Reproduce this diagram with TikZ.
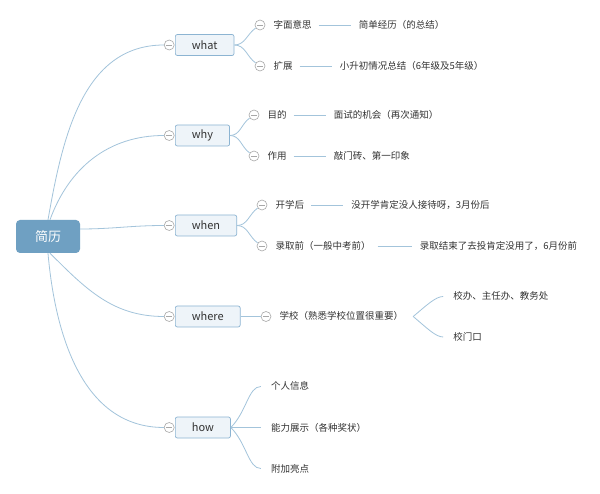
\documentclass[tikz,border=0pt]{standalone}
\usepackage{fontspec}
\setmainfont{Noto Sans CJK SC}
\usetikzlibrary{positioning}

\definecolor{linkblue}{RGB}{163,196,219}
\definecolor{topicline}{RGB}{140,180,210}
\definecolor{topicfill}{RGB}{238,244,249}
\definecolor{rootfill}{RGB}{111,160,194}
\definecolor{foldgray}{RGB}{168,168,168}
\definecolor{textgray}{RGB}{51,51,51}

\begin{document}
\begin{tikzpicture}[
  x=1pt,y=1pt,
  font=\fontsize{9.5}{11}\selectfont,
  text=textgray,
  rootbox/.style={fill=rootfill,rounded corners=4pt,minimum width=64pt,minimum height=33pt,text=white,font=\fontsize{13}{15}\selectfont},
  topic/.style={draw=topicline,fill=topicfill,line width=0.7pt,rounded corners=2pt,inner xsep=16.5pt,minimum height=21pt,font=\fontsize{11}{13}\selectfont},
  fold/.style={circle,draw=foldgray,fill=white,line width=0.6pt,minimum size=10pt,inner sep=0pt,
    path picture={\draw[foldgray,line width=0.6pt] ([xshift=-3pt]path picture bounding box.center) -- ([xshift=3pt]path picture bounding box.center);}},
  leaf/.style={inner sep=0pt,text height=8.5pt,text depth=1.5pt},
  link/.style={draw=linkblue,line width=0.8pt},
  leafline/.style={link,shorten <=7pt,shorten >=8pt},
]
  \useasboundingbox[fill=white] (0,0) rectangle (600,-494);

  % root and main topics
  \node[rootbox] (cv) at (48,-236.5) {简历};
  \node[topic,anchor=west] (what) at (175,-45) {what};
  \node[topic,anchor=west] (why) at (175,-135.5) {why};
  \node[topic,anchor=west] (when) at (175,-225.5) {when};
  \node[topic,anchor=west] (where) at (175,-316.5) {where};
  \node[topic,anchor=west] (how) at (175,-427.5) {how};

  \node[fold,left=0.5pt of what] (fwhat) {};
  \node[fold,left=0.5pt of why] (fwhy) {};
  \node[fold,left=0.5pt of when] (fwhen) {};
  \node[fold,left=0.5pt of where] (fwhere) {};
  \node[fold,left=0.5pt of how] (fhow) {};

  \draw[link] (cv.north) to[out=80,in=180] (fwhat);
  \draw[link] ([xshift=2pt]cv.north) to[out=70,in=180] (fwhy);
  \draw[link] ([yshift=7.5pt]cv.east) to[out=0,in=180] (fwhen);
  \draw[link] ([xshift=2pt]cv.south) to[out=-45,in=180] (fwhere);
  \draw[link] (cv.south) to[out=-85,in=180] (fhow);

  % what
  \node[fold] (f11) at (260,-25) {};
  \node[leaf,right=8pt of f11] (t11) {字面意思};
  \node[leaf,right=47pt of t11] (d11) {简单经历（的总结）};
  \node[fold] (f12) at (260,-66) {};
  \node[leaf,right=8pt of f12] (t12) {扩展};
  \node[leaf,right=47pt of t12] (d12) {小升初情况总结（6年级及5年级）};
  \draw[link] (what.east) to[out=0,in=215] (f11);
  \draw[link] (what.east) to[out=0,in=145] (f12);
  \draw[leafline] (t11) -- (d11);
  \draw[leafline] (t12) -- (d12);

  % why
  \node[fold] (f21) at (254,-115) {};
  \node[leaf,right=8pt of f21] (t21) {目的};
  \node[leaf,right=47pt of t21] (d21) {面试的机会（再次通知）};
  \node[fold] (f22) at (254,-156) {};
  \node[leaf,right=8pt of f22] (t22) {作用};
  \node[leaf,right=47pt of t22] (d22) {敲门砖、第一印象};
  \draw[link] (why.east) to[out=0,in=215] (f21);
  \draw[link] (why.east) to[out=0,in=145] (f22);
  \draw[leafline] (t21) -- (d21);
  \draw[leafline] (t22) -- (d22);

  % when
  \node[fold] (f31) at (262,-205) {};
  \node[leaf,right=8pt of f31] (t31) {开学后};
  \node[leaf,right=47pt of t31] (d31) {没开学肯定没人接待呀，3月份后};
  \node[fold] (f32) at (262,-246) {};
  \node[leaf,right=8pt of f32] (t32) {录取前（一般中考前）};
  \node[leaf,right=49pt of t32] (d32) {录取结束了去投肯定没用了，6月份前};
  \draw[link] (when.east) to[out=0,in=215] (f31);
  \draw[link] (when.east) to[out=0,in=145] (f32);
  \draw[leafline] (t31) -- (d31);
  \draw[leafline] (t32) -- (d32);

  % where
  \node[fold] (f41) at (266,-316.5) {};
  \node[leaf,right=8pt of f41] (t41) {学校（熟悉学校位置很重要）};
  \coordinate[right=10pt of t41] (fork4);
  \node[leaf,right=40pt of fork4,yshift=20pt] (t42) {校办、主任办、教务处};
  \node[leaf,right=40pt of fork4,yshift=-20.5pt] (t43) {校门口};
  \draw[link] (where) -- (f41);
  \draw[link,shorten >=10pt] (fork4) to[out=40,in=180] (t42);
  \draw[link,shorten >=10pt] (fork4) to[out=-40,in=180] (t43);

  % how
  \node[leaf,right=40pt of how,yshift=41pt] (t51) {个人信息};
  \node[leaf,right=40pt of how] (t52) {能力展示（各种奖状）};
  \node[leaf,right=40pt of how,yshift=-41pt] (t53) {附加亮点};
  \draw[link,shorten >=10pt] (how.east) to[out=45,in=180] (t51);
  \draw[link,shorten >=10pt] (how) -- (t52);
  \draw[link,shorten >=10pt] (how.east) to[out=-45,in=180] (t53);
\end{tikzpicture}
\end{document}
